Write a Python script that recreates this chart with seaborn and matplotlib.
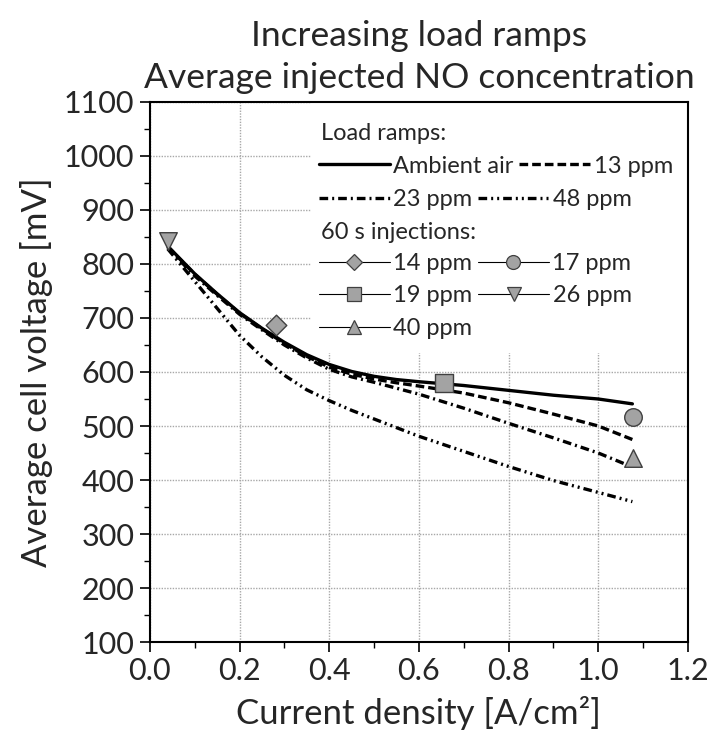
import matplotlib
matplotlib.use("Agg")
import matplotlib.pyplot as plt
from matplotlib.lines import Line2D
from matplotlib.patches import Rectangle
from matplotlib.ticker import MultipleLocator
import numpy as np
import pandas as pd
import seaborn as sns

# ---------------- data ----------------
x_ramp = [0.04, 0.10, 0.15, 0.20, 0.25, 0.30, 0.35, 0.40, 0.45, 0.50, 0.55, 0.60, 0.70, 0.80, 0.90, 1.00, 1.076]
v_ambient = [833, 782, 745, 710, 681, 655, 632, 614, 601, 592, 586, 582, 575, 566, 557, 550, 541]
v_13ppm   = [832, 781, 744, 709, 680, 653, 629, 609, 596, 587, 580, 574, 561, 543, 522, 500, 475]
v_23ppm   = [830, 778, 742, 707, 678, 650, 626, 605, 591, 581, 570, 559, 533, 505, 478, 450, 424]
v_48ppm   = [828, 768, 718, 668, 628, 594, 567, 547, 529, 513, 497, 481, 453, 425, 399, 377, 360]
ramp_labels = ["Ambient air", "13 ppm", "23 ppm", "48 ppm"]

inj_labels = ["14 ppm", "17 ppm", "19 ppm", "26 ppm", "40 ppm"]
inj_x = [0.282, 1.078, 0.657, 0.040, 1.078]
inj_v = [687, 516, 579, 842, 440]
inj_markers = ["D", "o", "s", "v", "^"]

x_ticks = [0.0, 0.2, 0.4, 0.6, 0.8, 1.0, 1.2]
y_ticks = [100, 200, 300, 400, 500, 600, 700, 800, 900, 1000, 1100]

# ---------------- style ----------------
sns.set_theme(style="white")
plt.rcParams["font.family"] = ["Lato", "DejaVu Sans"]

FS_TICK = 22
FS_LAB = 25
FS_LEG = 17
LW = 2.4
dash_map = {
    "Ambient air": "",
    "13 ppm": (2.6, 1.2),
    "23 ppm": (2.6, 1.2, 0.6, 1.2),
    "48 ppm": (2.6, 1.2, 0.6, 1.2, 0.6, 1.2),
}
marker_map = dict(zip(inj_labels, inj_markers))
MFC = "#a3a3a3"
MEC = "#404040"

fig = plt.figure(figsize=(7.1, 7.4), dpi=100)
ax = fig.add_axes([0.211, 0.1324, 0.758, 0.7298])

# ramps
rows = []
for lab, vals in zip(ramp_labels, [v_ambient, v_13ppm, v_23ppm, v_48ppm]):
    for xv, yv in zip(x_ramp, vals):
        rows.append({"x": xv, "v": yv, "series": lab})
df_ramp = pd.DataFrame(rows)
sns.lineplot(data=df_ramp, x="x", y="v", style="series", dashes=dash_map,
             color="black", linewidth=LW, estimator=None, sort=False,
             legend=False, ax=ax, zorder=3)

# injections
df_inj = pd.DataFrame({"x": inj_x, "v": inj_v, "series": inj_labels})
sizes = {"14 ppm": 110, "17 ppm": 160, "19 ppm": 150, "26 ppm": 160, "40 ppm": 160}
for lab in inj_labels:
    sub = df_inj[df_inj["series"] == lab]
    sns.scatterplot(data=sub, x="x", y="v", marker=marker_map[lab], s=sizes[lab],
                    color=MFC, edgecolor=MEC, linewidth=1.0, legend=False,
                    ax=ax, zorder=4)

# axes
ax.set_xlim(0, 1.2)
ax.set_ylim(100, 1100)
ax.set_xticks(x_ticks)
ax.set_yticks(y_ticks)
ax.set_xticklabels([f"{t:.1f}" for t in x_ticks])
ax.set_yticklabels([str(t) for t in y_ticks])
ax.xaxis.set_minor_locator(MultipleLocator(0.1))
ax.yaxis.set_minor_locator(MultipleLocator(50))
ax.tick_params(axis="both", which="major", direction="out", length=7, width=1.2,
               color="black", labelsize=FS_TICK, pad=4, bottom=True, left=True)
ax.tick_params(axis="both", which="minor", direction="out", length=4, width=1.0,
               color="black", bottom=True, left=True)
for s in ax.spines.values():
    s.set_color("black")
    s.set_linewidth(1.5)

ax.set_axisbelow(True)
ax.grid(True, which="major", color="#a8a8a8", linestyle=(0, (1, 1)), linewidth=1.0)

# white legend background (hides grid as in reference)
ax.add_patch(Rectangle((0.30, 0.535), 0.698, 0.463, transform=ax.transAxes,
                       facecolor="white", edgecolor="none", zorder=1))

ax.set_xlabel("Current density [A/cm²]", fontsize=FS_LAB, labelpad=8)
ax.set_ylabel("Average cell voltage [mV]", fontsize=FS_LAB, labelpad=8)
ax.set_title("Increasing load ramps\nAverage injected NO concentration",
             fontsize=25.5, linespacing=1.4, pad=10)

# ---------------- legend ----------------
def ramp_handle(lab):
    d = dash_map[lab]
    if d == "":
        return Line2D([], [], color="black", lw=LW, linestyle="-")
    return Line2D([], [], color="black", lw=LW, linestyle=(0, d))

def inj_handle(lab):
    ms = 8 if lab == "14 ppm" else 10
    return Line2D([], [], color="black", lw=0.8, marker=marker_map[lab], markersize=ms,
                  markerfacecolor=MFC, markeredgecolor=MEC, markeredgewidth=0.9)

LX = 0.314
leg_rows = [
    (0.881, [ramp_handle("Ambient air"), ramp_handle("13 ppm")], ["Ambient air", "13 ppm"]),
    (0.819, [ramp_handle("23 ppm"), ramp_handle("48 ppm")], ["23 ppm", "48 ppm"]),
    (0.700, [inj_handle("14 ppm"), inj_handle("17 ppm")], ["14 ppm", "17 ppm"]),
    (0.641, [inj_handle("19 ppm"), inj_handle("26 ppm")], ["19 ppm", "26 ppm"]),
    (0.580, [inj_handle("40 ppm")], ["40 ppm"]),
]
for yy, hs, ls in leg_rows:
    leg = ax.legend(hs, ls, loc="center left", bbox_to_anchor=(LX, yy),
                    bbox_transform=ax.transAxes, ncol=2, frameon=False,
                    fontsize=FS_LEG, handlelength=3.0, handletextpad=0.15,
                    columnspacing=0.25, borderpad=0, borderaxespad=0)
    leg.set_zorder(5)
    ax.add_artist(leg)
ax.legend_ = None  # avoid drawing the last legend twice

ax.text(LX + 0.005, 0.941, "Load ramps:", transform=ax.transAxes, fontsize=FS_LEG,
        va="center", ha="left", zorder=5)
ax.text(LX + 0.005, 0.759, "60 s injections:", transform=ax.transAxes, fontsize=FS_LEG,
        va="center", ha="left", zorder=5)

fig.savefig("out.png", dpi=100)
